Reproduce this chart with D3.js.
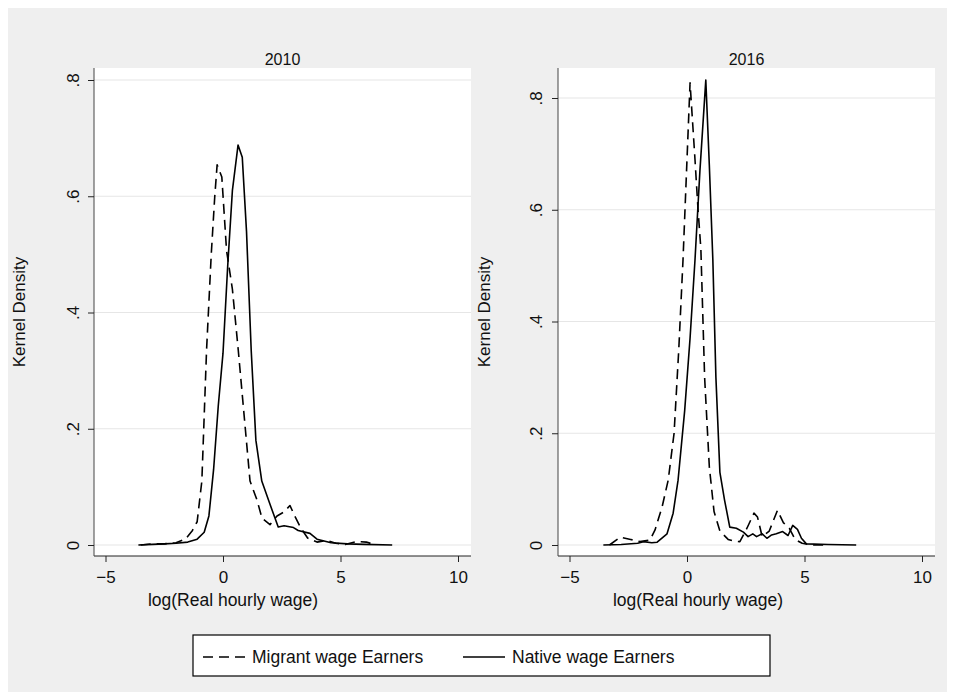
<!DOCTYPE html>
<html>
<head>
<meta charset="utf-8">
<script src="https://cdn.jsdelivr.net/npm/d3@7"></script>
<style>
  body { margin: 0; background: white; }
  text { font-family: "Liberation Sans", Arial, sans-serif; fill: #111; }
</style>
</head>
<body>
<div class="box"></div>
<script>
// DATA
const xTicks = [-5, 0, 5, 10];
const yTicks = [0, 0.2, 0.4, 0.6, 0.8];
const yTickLabels = ['0', '.2', '.4', '.6', '.8'];
const panelTitles = ['2010', '2016'];
const seriesNames = ['Migrant wage Earners', 'Native wage Earners'];

// log wage, density
const migrant2010 = [
  [-3.5, 0.000], [-3.0, 0.002], [-2.5, 0.002], [-2.0, 0.004], [-1.6, 0.010],
  [-1.3, 0.025], [-1.1, 0.040], [-0.9, 0.110], [-0.7, 0.335], [-0.5, 0.500],
  [-0.35, 0.600], [-0.25, 0.654], [-0.05, 0.633], [0.15, 0.507], [0.4, 0.440],
  [0.65, 0.335], [0.95, 0.200], [1.15, 0.110], [1.45, 0.077], [1.66, 0.046],
  [2.0, 0.035], [2.3, 0.050], [2.6, 0.057], [2.85, 0.068], [3.05, 0.050],
  [3.3, 0.030], [3.6, 0.012], [4.0, 0.005], [4.4, 0.008], [4.8, 0.003],
  [5.2, 0.001], [5.7, 0.006], [6.1, 0.005], [6.5, 0.000]
];
const native2010 = [
  [-3.6, 0.000], [-3.0, 0.001], [-2.5, 0.002], [-2.0, 0.003], [-1.5, 0.005],
  [-1.1, 0.010], [-0.8, 0.022], [-0.6, 0.050], [-0.4, 0.130], [-0.2, 0.240],
  [0.0, 0.330], [0.2, 0.480], [0.4, 0.610], [0.64, 0.688], [0.82, 0.667],
  [1.0, 0.540], [1.2, 0.335], [1.4, 0.180], [1.65, 0.110], [2.0, 0.070],
  [2.35, 0.031], [2.6, 0.033], [3.0, 0.030], [3.2, 0.025], [3.7, 0.020],
  [4.0, 0.010], [4.3, 0.007], [4.6, 0.004], [5.3, 0.002], [6.0, 0.001],
  [7.2, 0.000]
];
const migrant2016 = [
  [-3.3, 0.000], [-2.84, 0.014], [-2.4, 0.010], [-2.0, 0.006], [-1.57, 0.009],
  [-1.36, 0.027], [-1.06, 0.068], [-0.8, 0.116], [-0.55, 0.200], [-0.35, 0.350],
  [-0.17, 0.510], [0.0, 0.690], [0.13, 0.827], [0.34, 0.690], [0.47, 0.600],
  [0.59, 0.530], [0.75, 0.300], [0.95, 0.140], [1.15, 0.060], [1.4, 0.025],
  [1.75, 0.010], [2.0, 0.007], [2.25, 0.006], [2.55, 0.030], [2.85, 0.057],
  [3.0, 0.050], [3.2, 0.015], [3.5, 0.025], [3.85, 0.062], [4.1, 0.040],
  [4.35, 0.030], [4.6, 0.010], [4.9, 0.003], [5.3, 0.000], [6.0, 0.000]
];
const native2016 = [
  [-3.56, 0.000], [-2.8, 0.001], [-2.1, 0.003], [-1.85, 0.006], [-1.5, 0.004],
  [-1.27, 0.005], [-0.85, 0.020], [-0.59, 0.057], [-0.38, 0.116], [-0.1, 0.240],
  [0.13, 0.370], [0.34, 0.510], [0.55, 0.670], [0.8, 0.832], [0.95, 0.680],
  [1.1, 0.510], [1.23, 0.300], [1.4, 0.130], [1.6, 0.080], [1.82, 0.032],
  [2.1, 0.030], [2.4, 0.023], [2.6, 0.015], [2.8, 0.020], [2.96, 0.015],
  [3.2, 0.020], [3.4, 0.012], [3.6, 0.018], [3.8, 0.020], [4.07, 0.024],
  [4.3, 0.017], [4.5, 0.035], [4.7, 0.028], [4.87, 0.012], [5.08, 0.002],
  [6.0, 0.001], [7.2, 0.000]
];

// SETUP
const W = 955, H = 700;
const svg = d3.select('.box')
              .append('svg')
              .attr('width', W)
              .attr('height', H);

svg.append('rect')
   .attr('x', 8).attr('y', 8)
   .attr('width', W - 16).attr('height', H - 16)
   .attr('fill', '#efefef');

// each panel: plot frame and where the ticks fall
const panels = [
  {title: panelTitles[0], left: 94, right: 471, x0: 223, x10: 458, y0: 545, y8: 80,
   data: [migrant2010, native2010], ylabX: 79, ytitleX: 25, xtitleX: 233},
  {title: panelTitles[1], left: 558, right: 935, x0: 687, x10: 922, y0: 545, y8: 98,
   data: [migrant2016, native2016], ylabX: 542, ytitleX: 490, xtitleX: 698}
];
const plotTop = 68, plotBottom = 556;
const dashes = ['10,6', null];

panels.forEach(p => {
  // scales: ticks fixed by the picture, frame wider than the ticks
  const x = d3.scaleLinear().domain([0, 10]).range([p.x0, p.x10]);
  const y = d3.scaleLinear().domain([0, 0.8]).range([p.y0, p.y8]);

  const g = svg.append('g');

  g.append('rect')
   .attr('x', p.left).attr('y', plotTop)
   .attr('width', p.right - p.left).attr('height', plotBottom - plotTop)
   .attr('fill', 'white');

  // grid
  g.selectAll('.grid')
   .data(yTicks)
   .enter().append('line')
   .attr('x1', p.left).attr('x2', p.right)
   .attr('y1', d => y(d)).attr('y2', d => y(d))
   .attr('stroke', '#e6e6e6')
   .attr('stroke-width', 1.2);

  // curves
  const line = d3.line().x(d => x(d[0])).y(d => y(d[1]));
  p.data.forEach((s, i) => {
    g.append('path')
     .datum(s)
     .attr('d', line)
     .attr('fill', 'none')
     .attr('stroke', 'black')
     .attr('stroke-width', 1.6)
     .attr('stroke-linejoin', 'round')
     .attr('stroke-dasharray', dashes[i]);
  });

  // axes
  const axX = d3.axisBottom(x).tickValues(xTicks).tickSize(6).tickSizeOuter(0);
  const gx = g.append('g')
              .attr('transform', `translate(0, ${plotBottom})`)
              .call(axX);
  gx.select('.domain').attr('d', `M${p.left},0H${p.right}`).attr('stroke', '#222');
  gx.selectAll('.tick line').attr('stroke', '#222');
  gx.selectAll('.tick text')
    .attr('y', 15)
    .style('font-size', '17px')
    .style('font-family', '"Liberation Sans", Arial, sans-serif')
    .attr('fill', '#111');

  const axY = d3.axisLeft(y).tickValues(yTicks)
                .tickFormat((d, i) => yTickLabels[i]).tickSize(6).tickSizeOuter(0);
  const gy = g.append('g')
              .attr('transform', `translate(${p.left}, 0)`)
              .call(axY);
  gy.select('.domain').attr('d', `M0,${plotTop}V${plotBottom}`).attr('stroke', '#444');
  gy.selectAll('.tick line').attr('stroke', '#222');
  gy.selectAll('.tick text')
    .attr('x', 0).attr('dy', 0)
    .attr('text-anchor', 'middle')
    .attr('transform', d => `translate(${p.ylabX - p.left}, 0) rotate(-90)`)
    .style('font-size', '17px')
    .style('font-family', '"Liberation Sans", Arial, sans-serif')
    .attr('fill', '#111');

  // titles
  g.append('text')
   .attr('x', (p.left + p.right) / 2).attr('y', 65)
   .attr('text-anchor', 'middle')
   .style('font-size', '16px')
   .text(p.title);

  g.append('text')
   .attr('x', p.xtitleX).attr('y', 606)
   .attr('text-anchor', 'middle')
   .style('font-size', '17.5px')
   .text('log(Real hourly wage)');

  g.append('text')
   .attr('transform', `translate(${p.ytitleX}, ${(plotTop + plotBottom) / 2}) rotate(-90)`)
   .attr('text-anchor', 'middle')
   .style('font-size', '17px')
   .text('Kernel Density');
});

// legend
const legend = svg.append('g');
legend.append('rect')
      .attr('x', 193).attr('y', 635)
      .attr('width', 577).attr('height', 41)
      .attr('fill', 'white')
      .attr('stroke', 'black')
      .attr('stroke-width', 1.2);

const legendPos = [{x1: 203, x2: 247, tx: 252}, {x1: 463, x2: 505, tx: 512}];
seriesNames.forEach((name, i) => {
  legend.append('line')
        .attr('x1', legendPos[i].x1).attr('x2', legendPos[i].x2)
        .attr('y1', 657).attr('y2', 657)
        .attr('stroke', 'black')
        .attr('stroke-width', 1.6)
        .attr('stroke-dasharray', dashes[i]);
  legend.append('text')
        .attr('x', legendPos[i].tx).attr('y', 663)
        .style('font-size', '17.5px')
        .text(name);
});
</script>
</body>
</html>
